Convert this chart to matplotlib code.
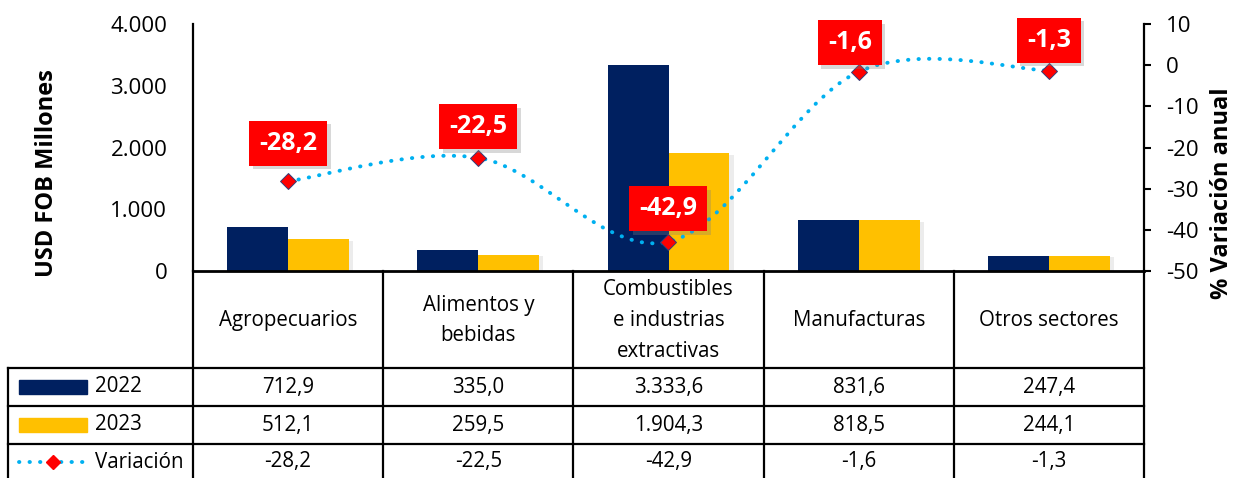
import matplotlib
matplotlib.use("Agg")
import matplotlib.pyplot as plt
from matplotlib.path import Path
from matplotlib.patches import PathPatch, Rectangle
from matplotlib.lines import Line2D
import matplotlib.patheffects as pe
import numpy as np

# ---------------- data ----------------
categories = ["Agropecuarios", "Alimentos y\nbebidas",
              "Combustibles\ne industrias\nextractivas",
              "Manufacturas", "Otros sectores"]
values_2022 = [712.9, 335.0, 3333.6, 831.6, 247.4]
values_2023 = [512.1, 259.5, 1904.3, 818.5, 244.1]
variacion = [-28.2, -22.5, -42.9, -1.6, -1.3]
series_names = ["2022", "2023", "Variación"]
left_ticks = [0, 1000, 2000, 3000, 4000]
right_ticks = [-50, -40, -30, -20, -10, 0, 10]
left_label = "USD FOB Millones"
right_label = "% Variación anual"

# ---------------- style ----------------
NAVY = "#002060"
GOLD = "#FFC000"
RED = "#FF0000"
BLUE = "#00B0F0"
plt.rcParams["font.family"] = ["Open Sans", "DejaVu Sans"]

def fmt(v, dec=1):
    s = f"{v:,.{dec}f}"
    return s.replace(",", "X").replace(".", ",").replace("X", ".")

W, H = 1235, 478
fig = plt.figure(figsize=(W / 100, H / 100), dpi=100)

ax_left, ax_right, ax_top, ax_bot = 193, 1144, 24, 271
ax = fig.add_axes([ax_left / W, (H - ax_bot) / H,
                   (ax_right - ax_left) / W, (ax_bot - ax_top) / H])
x = np.arange(len(categories))
bw = 0.32
shadow = [pe.SimplePatchShadow(offset=(3, -1), shadow_rgbFace="gray", alpha=0.15), pe.Normal()]
b1 = ax.bar(x, values_2022, width=-bw, align="edge", color=NAVY, zorder=2)
b2 = ax.bar(x, values_2023, width=bw, align="edge", color=GOLD, zorder=2)
for b in list(b2):
    b.set_path_effects(shadow)
ax.set_xlim(-0.5, len(categories) - 0.5)
ax.set_ylim(left_ticks[0], left_ticks[-1])
ax.set_yticks(left_ticks)
ax.set_yticklabels([fmt(v, 0) for v in left_ticks])
ax.tick_params(axis="y", length=0, pad=18.5, labelsize=16)
ax.set_xticks([])
for s in ["top", "right"]:
    ax.spines[s].set_visible(False)
ax.spines["left"].set_linewidth(1.6)
ax.spines["bottom"].set_linewidth(2.0)

ax2 = ax.twinx()
ax2.set_ylim(right_ticks[0], right_ticks[-1])
ax2.set_yticks(right_ticks)
ax2.set_yticklabels([str(v) for v in right_ticks])
ax2.tick_params(axis="y", direction="out", length=5, width=1.5, pad=11, labelsize=16)
for s in ["top", "left", "bottom"]:
    ax2.spines[s].set_visible(False)
ax2.spines["right"].set_linewidth(1.6)

# smoothed line (Catmull-Rom style bezier, as in spreadsheet smoothing)
pts = np.column_stack([x, variacion]).astype(float)
verts = [tuple(pts[0])]
codes = [Path.MOVETO]
n = len(pts)
for i in range(n - 1):
    p0 = pts[i - 1] if i > 0 else pts[i]
    p3 = pts[i + 2] if i + 2 < n else pts[i + 1]
    c1 = pts[i] + (pts[i + 1] - p0) / 6
    c2 = pts[i + 1] - (p3 - pts[i]) / 6
    verts += [tuple(c1), tuple(c2), tuple(pts[i + 1])]
    codes += [Path.CURVE4] * 3
line = PathPatch(Path(verts, codes), fill=False, edgecolor=BLUE, lw=2.8,
                 linestyle=(0, (0.1, 2.6)), capstyle="round", zorder=3)
ax2.add_patch(line)
ax2.plot(x, variacion, "D", ms=8.5, mfc=RED, mec="#2F3E7A", mew=0.7, ls="none", zorder=4)

label_offsets_px = [(0, 38), (0, 31), (0, 33), (-9, 29), (0, 30)]
for i, v in enumerate(variacion):
    dx, dy = label_offsets_px[i]
    ann = ax2.annotate(fmt(v), xy=(x[i], v), xytext=(dx * 0.72, dy * 0.72),
                       textcoords="offset points", ha="center", va="center",
                       fontsize=18, fontweight="bold", color="white", zorder=6,
                       bbox=dict(boxstyle="square,pad=0.4", fc=RED, ec="none"))
    ann.get_bbox_patch().set_path_effects(
        [pe.SimplePatchShadow(offset=(2.5, -2.5), shadow_rgbFace="gray", alpha=0.3), pe.Normal()])

# axis titles
fig.text(47 / W, 1 - 173 / H, left_label, rotation=90, ha="center", va="center",
         fontsize=17, fontweight="bold")
fig.text(1222 / W, 1 - 193 / H, right_label, rotation=90, ha="center", va="center",
         fontsize=17, fontweight="bold")

# ---------------- data table ----------------
tax = fig.add_axes([0, 0, 1, 1], zorder=5)
tax.set_xlim(0, W)
tax.set_ylim(H, 0)
tax.axis("off")
col_w = (ax_right - ax_left) / len(categories)
col_edges = [ax_left + col_w * k for k in range(len(categories) + 1)]
row_lines = [368, 406, 444]
table_left = 8
lw = 1.6
for xe in col_edges:
    tax.add_line(Line2D([xe, xe], [ax_bot, H + 5], color="black", lw=lw))
tax.add_line(Line2D([table_left, table_left], [row_lines[0], H + 5], color="black", lw=lw))
for yr in row_lines:
    tax.add_line(Line2D([table_left, col_edges[-1]], [yr, yr], color="black", lw=lw))

centers = [ax_left + col_w * (k + 0.5) for k in range(len(categories))]
for cx, cat in zip(centers, categories):
    tax.text(cx, (ax_bot + row_lines[0]) / 2 + 1, cat, ha="center", va="center",
             fontsize=14.8, linespacing=1.62)
row_centers = [(row_lines[0] + row_lines[1]) / 2, (row_lines[1] + row_lines[2]) / 2,
               (row_lines[2] + H + 2) / 2]
rows = [[fmt(v) for v in values_2022], [fmt(v) for v in values_2023],
        [fmt(v) for v in variacion]]
for yc, row in zip(row_centers, rows):
    for cx, t in zip(centers, row):
        tax.text(cx, yc, t, ha="center", va="center", fontsize=14.8)

# legend keys
tax.add_patch(Rectangle((19, row_centers[0] - 7), 68, 14, color=NAVY))
tax.add_patch(Rectangle((19, row_centers[1] - 7), 68, 14, color=GOLD))
tax.add_line(Line2D([19, 88], [row_centers[2]] * 2, color=BLUE, lw=2.8,
                    linestyle=(0, (0.1, 2.6)), solid_capstyle="round", dash_capstyle="round"))
tax.plot([53], [row_centers[2]], "D", ms=7, mfc=RED, mec=RED, ls="none")
for yc, name in zip(row_centers, series_names):
    tax.text(95, yc, name, ha="left", va="center", fontsize=14.8)

fig.savefig("out.png", dpi=100)
